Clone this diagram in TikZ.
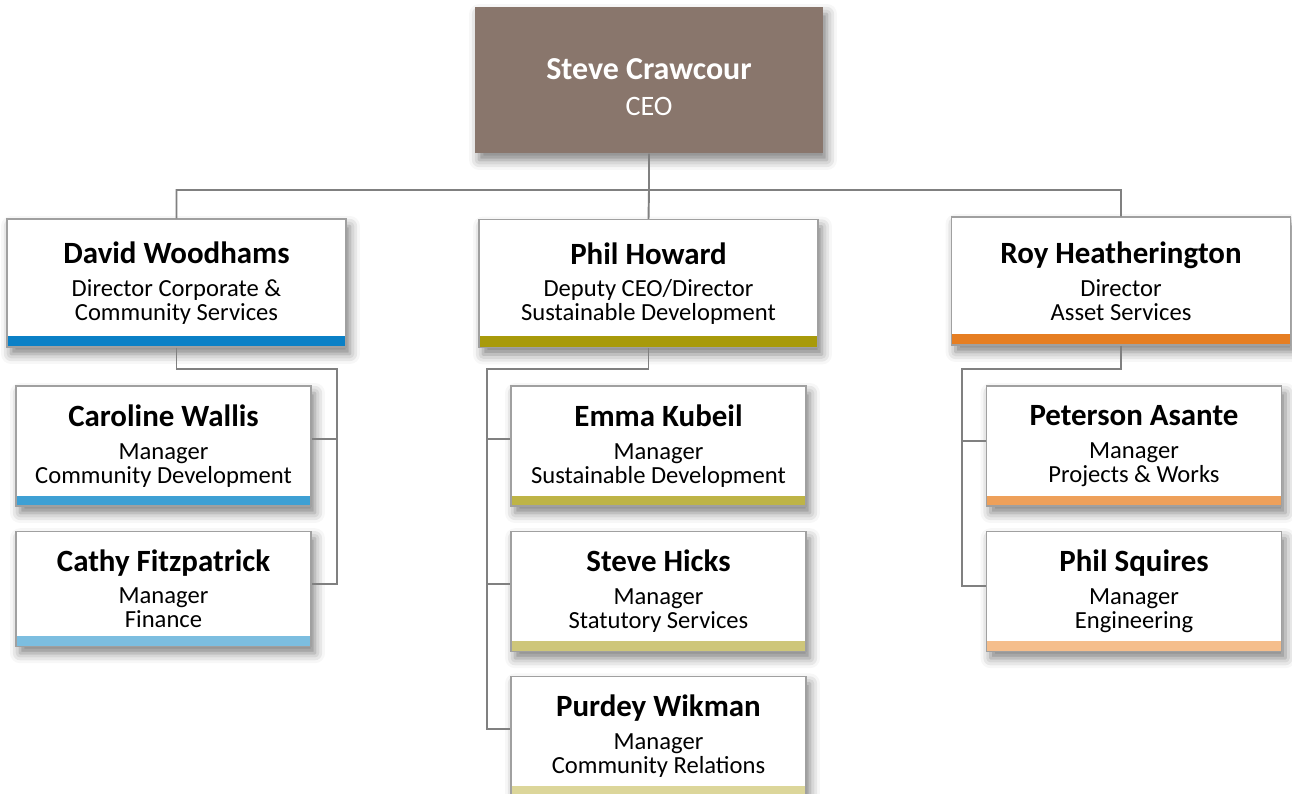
\documentclass[tikz,border=0pt]{standalone}
\usepackage{fontspec}
\setmainfont{Carlito}
\usetikzlibrary{positioning,shadows.blur}
\definecolor{ceobrown}{RGB}{137,118,108}
\definecolor{boxgray}{RGB}{160,160,160}
\definecolor{linegray}{RGB}{128,128,128}
\definecolor{blueA}{RGB}{10,128,198}
\definecolor{blueB}{RGB}{62,160,212}
\definecolor{blueC}{RGB}{124,190,224}
\definecolor{oliveA}{RGB}{168,154,10}
\definecolor{oliveB}{RGB}{190,180,70}
\definecolor{oliveC}{RGB}{206,198,122}
\definecolor{oliveD}{RGB}{220,214,154}
\definecolor{orangeA}{RGB}{230,126,34}
\definecolor{orangeB}{RGB}{238,160,90}
\definecolor{orangeC}{RGB}{245,190,140}
\newcommand{\nm}{\fontsize{17.6}{19}\selectfont\bfseries}

\begin{document}
\begin{tikzpicture}[x=0.02cm,y=-0.02cm,line width=1.1pt,
font=\fontsize{14}{13.6}\selectfont]
\tikzstyle{box}=[draw=boxgray,line width=0.7pt,fill=white,align=center,inner sep=0pt,
  blur shadow={shadow xshift=0.08cm,shadow yshift=-0.14cm,shadow blur radius=0.2cm,shadow opacity=50}]
\tikzstyle{link}=[draw=linegray]
\tikzset{director/.style={box,minimum width=6.78cm,minimum height=2.56cm,
  path picture={\fill[#1] ([yshift=0.22cm]path picture bounding box.south west) rectangle (path picture bounding box.south east);}},
  manager/.style={box,minimum width=5.9cm,minimum height=2.4cm,
  path picture={\fill[#1] ([yshift=0.2cm]path picture bounding box.south west) rectangle (path picture bounding box.south east);}}}

\useasboundingbox (0,0) rectangle (1292,794);

\node[box,fill=ceobrown,draw=none,text=white,minimum width=6.96cm,minimum height=2.92cm,
  font=\fontsize{16}{16}\selectfont]
  (ceo) at (649,80) {\rule{0pt}{20pt}{\fontsize{18.2}{19}\selectfont\bfseries Steve Crawcour}\\[4pt]CEO};

\node[director=blueA]   (dw) at (176.5,283)  {{\nm David Woodhams}\\[5pt]Director Corporate \&\\Community Services};
\node[director=oliveA]  (ph) at (648.5,283.5) {{\nm Phil Howard}\\[5pt]Deputy CEO/Director\\Sustainable Development};
\node[director=orangeA] (rh) at (1121,281)   {{\nm Roy Heatherington}\\[5pt]Director\\Asset Services};

\node[manager=blueB]   (cw) at (163.5,446) {{\nm Caroline Wallis}\\[5pt]Manager\\Community Development};
\node[manager=blueC,minimum height=2.3cm] (cf) [below=0.48cm of cw] {{\nm Cathy Fitzpatrick}\\[5pt]Manager\\Finance};

\node[manager=oliveB]  (ek) at (658.5,446) {{\nm Emma Kubeil}\\[5pt]Manager\\Sustainable Development};
\node[manager=oliveC]  (sh) [below=0.48cm of ek] {{\nm Steve Hicks}\\[5pt]Manager\\Statutory Services};
\node[manager=oliveD]  (pw) [below=0.48cm of sh] {{\nm Purdey Wikman}\\[5pt]Manager\\Community Relations};

\node[manager=orangeB] (pa) at (1134,446) {{\nm Peterson Asante}\\[5pt]Manager\\Projects \& Works};
\node[manager=orangeC] (ps) [below=0.48cm of pa] {{\nm Phil Squires}\\[5pt]Manager\\Engineering};

\coordinate (hub)  at (649,190);
\coordinate (lbus) at (337,369);
\coordinate (mbus) at (487,369);
\coordinate (rbus) at (962,369);

\path[link] (ceo.south) -- (hub) -| (dw.north)
  (hub) -| (rh.north)
  (hub) -- (ph.north);
\path[link] (dw.south) |- (lbus) |- ([yshift=0.14cm]cw.east)
  (lbus) |- ([yshift=0.1cm]cf.east);
\path[link] (ph.south) |- (mbus) |- ([yshift=0.14cm]ek.west)
  (mbus) |- ([yshift=0.14cm]sh.west)
  (mbus) |- ([yshift=0.14cm]pw.west);
\path[link] (rh.south) |- (rbus) |- ([yshift=0.1cm]pa.west)
  (rbus) |- ([yshift=0.1cm]ps.west);

\end{tikzpicture}
\end{document}
